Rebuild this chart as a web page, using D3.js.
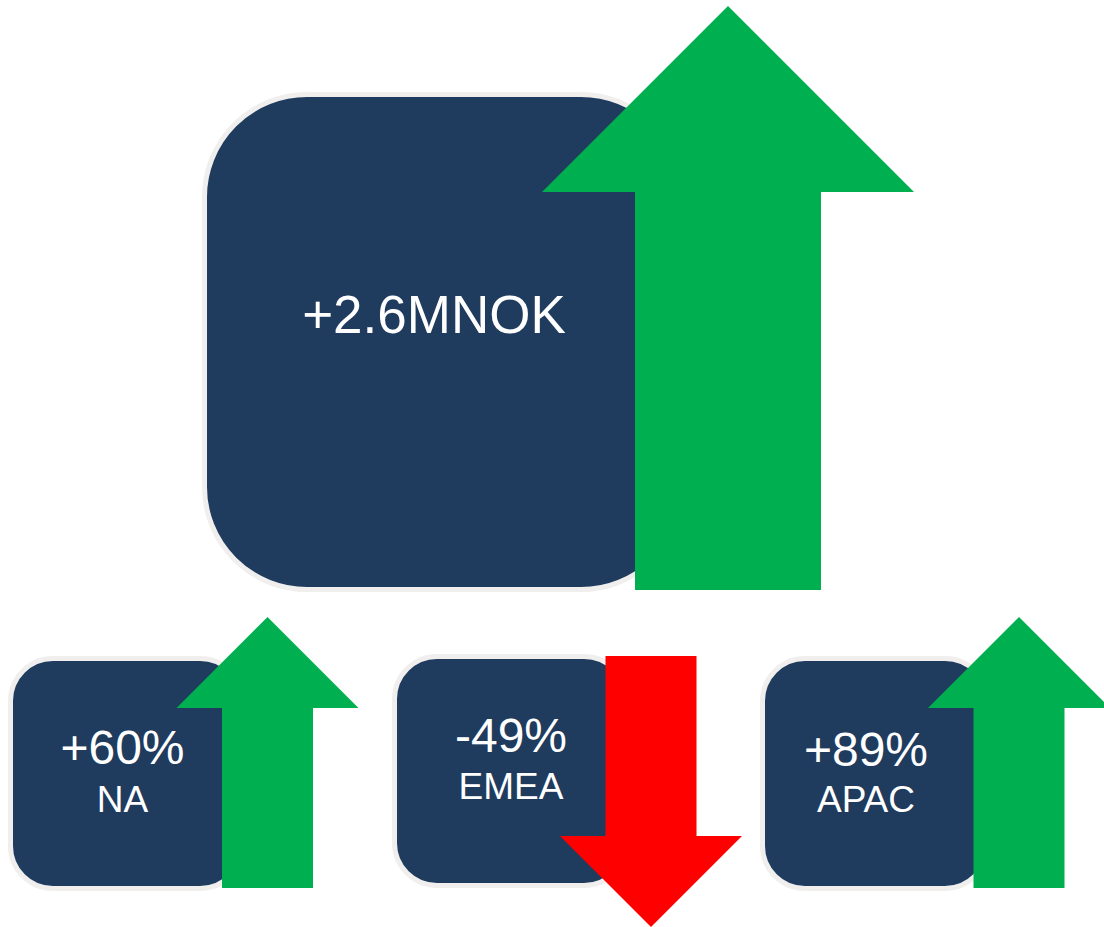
<!DOCTYPE html>
<html>
<head>
<meta charset="utf-8">
<script src="https://cdn.jsdelivr.net/npm/d3@7/dist/d3.min.js"></script>
<style>
  html, body { margin: 0; padding: 0; background: #ffffff; }
  svg { display: block; }
</style>
</head>
<body>
<div id="chart"></div>
<script>
// KPI values: total change and per-region change
const totalValue = 2.6;
const totalUnit = "MNOK";
const regions = ["NA", "EMEA", "APAC"];
const regionChange = [60, -49, 89];

const W = 1104, H = 927;
const NAVY = "#1f3b5e", BORDER = "#f0efee", UP = "#00b050", DOWN = "#ff0000";

const svg = d3.select("#chart").append("svg")
  .attr("width", W).attr("height", H)
  .attr("viewBox", `0 0 ${W} ${H}`);

const locale = d3.formatLocale({ decimal: ".", thousands: ",", grouping: [3], currency: ["", ""], minus: "-" });
const fmtPct = locale.format("+d");
const fmtTotal = locale.format("+.1f");

// Tile placement for each region
const tileX = d3.scaleOrdinal().domain(regions).range([13, 397, 765]);
const tileY = d3.scaleOrdinal().domain(regions).range([661, 659, 661]);
const tileW = d3.scaleOrdinal().domain(regions).range([227, 227, 220]);
const tileH = d3.scaleOrdinal().domain(regions).range([225, 224, 225]);
const arrowX = d3.scaleOrdinal().domain(regions).range([267.5, 651, 1019]);
const valueDy = d3.scaleOrdinal().domain(regions).range([103, 93, 105]);
const labelDy = d3.scaleOrdinal().domain(regions).range([151, 140, 151]);
const textDx = d3.scaleOrdinal().domain(regions).range([109.5, 114, 101]);

// Block arrow outline: shaft width w, head twice as wide and w tall
function arrowPath(cx, yStart, len, w, dir) {
  // dir = 1 pointing up (tip at yStart), -1 pointing down (tip at yStart + len)
  const p = d3.path();
  const hw = w, sw = w / 2, hh = w;
  if (dir > 0) {
    const tip = yStart, base = yStart + hh, end = yStart + len;
    p.moveTo(cx, tip);
    p.lineTo(cx + hw, base);
    p.lineTo(cx + sw, base);
    p.lineTo(cx + sw, end);
    p.lineTo(cx - sw, end);
    p.lineTo(cx - sw, base);
    p.lineTo(cx - hw, base);
  } else {
    const top = yStart, tip = yStart + len, base = tip - hh;
    p.moveTo(cx - sw, top);
    p.lineTo(cx + sw, top);
    p.lineTo(cx + sw, base);
    p.lineTo(cx + hw, base);
    p.lineTo(cx, tip);
    p.lineTo(cx - hw, base);
    p.lineTo(cx - sw, base);
  }
  p.closePath();
  return p.toString();
}

function tile(g, x, y, w, h, r) {
  g.append("rect")
    .attr("x", x - 2.5).attr("y", y - 2.5)
    .attr("width", w + 5).attr("height", h + 5)
    .attr("rx", r + 2.5).attr("ry", r + 2.5)
    .attr("fill", NAVY)
    .attr("stroke", BORDER).attr("stroke-width", 5);
}

const font = "'Liberation Sans', Arial, Helvetica, sans-serif";

// Total tile
const main = svg.append("g").attr("class", "total");
tile(main, 207, 97, 474, 490, 100);
main.append("text")
  .attr("x", 434).attr("y", 333)
  .attr("text-anchor", "middle")
  .attr("font-family", font).attr("font-size", 53)
  .attr("fill", "#ffffff")
  .text(fmtTotal(totalValue) + totalUnit);
main.append("path")
  .attr("d", arrowPath(728, 6, 584, 186, totalValue >= 0 ? 1 : -1))
  .attr("fill", totalValue >= 0 ? UP : DOWN);

// Region tiles
const items = regions.map((r, i) => ({ region: r, change: regionChange[i] }));
const tiles = svg.selectAll("g.region").data(items).join("g").attr("class", "region");

tiles.each(function(d) {
  const g = d3.select(this);
  const x = tileX(d.region), y = tileY(d.region);
  tile(g, x, y, tileW(d.region), tileH(d.region), 40);
  g.append("text")
    .attr("x", x + textDx(d.region)).attr("y", y + valueDy(d.region))
    .attr("text-anchor", "middle")
    .attr("font-family", font).attr("font-size", 48)
    .attr("fill", "#ffffff")
    .text(fmtPct(d.change) + "%");
  g.append("text")
    .attr("x", x + textDx(d.region)).attr("y", y + labelDy(d.region))
    .attr("text-anchor", "middle")
    .attr("font-family", font).attr("font-size", 37)
    .attr("fill", "#ffffff")
    .text(d.region);
  const up = d.change >= 0;
  g.append("path")
    .attr("d", arrowPath(arrowX(d.region), up ? 617 : 656, 271, 91, up ? 1 : -1))
    .attr("fill", up ? UP : DOWN);
});
</script>
</body>
</html>
